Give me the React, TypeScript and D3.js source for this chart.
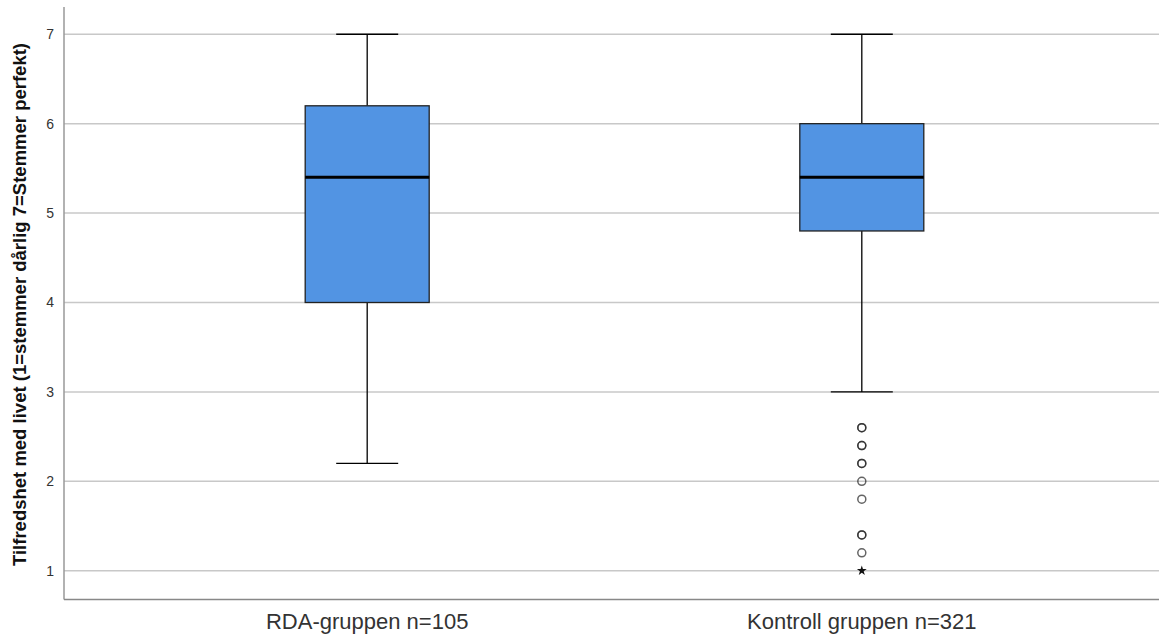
import React from 'react';
import * as d3 from 'd3';

const groups = ['RDA-gruppen n=105', 'Kontroll gruppen n=321'];
const mins = [2.2, 3.0];
const q1s = [4.0, 4.8];
const medians = [5.4, 5.4];
const q3s = [6.2, 6.0];
const maxs = [7.0, 7.0];
// outliers of the control group (duplicates = overlapping cases)
const outliers = [2.6, 2.6, 2.4, 2.4, 2.2, 2.2, 2.0, 1.8, 1.4, 1.4, 1.2];
const extremes = [1.0];
const yTicks = [1, 2, 3, 4, 5, 6, 7];

const W = 1159, H = 637;
const left = 64, plotRight = 1165, top = 7, bottom = 599.5;
const font = 'Liberation Sans, Arial, sans-serif';

export default function App() {
  const x = d3.scalePoint<string>().domain(groups).range([left, plotRight]).padding(0.613);
  const y = d3.scaleLinear().domain([0.678, 7.305]).range([bottom, top]);
  const boxW = 124;
  const capW = 62;
  const star = d3.symbol(d3.symbolStar, 30)();

  return (
    <svg width={W} height={H} style={{ position: 'absolute', left: 0, top: 0, background: '#fff' }}>
      {yTicks.map(t => (
        <g key={t}>
          <line x1={left} x2={W} y1={y(t)} y2={y(t)} stroke="#c8c8c8" strokeWidth={1.5} />
          <text x={54} y={y(t)} dy="0.35em" textAnchor="end" fontFamily={font} fontSize={14} fill="#333">{t}</text>
        </g>
      ))}
      <line x1={left} x2={left} y1={top} y2={bottom} stroke="#999" strokeWidth={1.5} />
      <line x1={left} x2={W} y1={bottom} y2={bottom} stroke="#888" strokeWidth={1.5} />
      <text transform={`translate(26,${(y(7) + y(1)) / 2 + 2}) rotate(-90)`} textAnchor="middle" fontFamily={font}
        fontSize={18.5} fontWeight="bold" fill="#111">Tilfredshet med livet (1=stemmer dårlig 7=Stemmer perfekt)</text>
      {groups.map((g, i) => {
        const cx = x(g)!;
        return (
          <g key={g}>
            <line x1={cx} x2={cx} y1={y(maxs[i])} y2={y(q3s[i])} stroke="#000" strokeWidth={1.3} />
            <line x1={cx} x2={cx} y1={y(q1s[i])} y2={y(mins[i])} stroke="#000" strokeWidth={1.3} />
            <line x1={cx - capW / 2} x2={cx + capW / 2} y1={y(maxs[i])} y2={y(maxs[i])} stroke="#000" strokeWidth={1.3} />
            <line x1={cx - capW / 2} x2={cx + capW / 2} y1={y(mins[i])} y2={y(mins[i])} stroke="#000" strokeWidth={1.3} />
            <rect x={cx - boxW / 2} width={boxW} y={y(q3s[i])} height={y(q1s[i]) - y(q3s[i])} fill="#5294e3" stroke="#222" strokeWidth={1.3} />
            <line x1={cx - boxW / 2} x2={cx + boxW / 2} y1={y(medians[i])} y2={y(medians[i])} stroke="#000" strokeWidth={3} />
            <text x={cx} y={629} textAnchor="middle" fontFamily={font} fontSize={22} fill="#333">{g}</text>
          </g>
        );
      })}
      {outliers.map((v, i) => (
        <circle key={i} cx={x(groups[1])!} cy={y(v)} r={4} fill="none" stroke="#222" strokeOpacity={0.7} strokeWidth={1.5} />
      ))}
      {extremes.map((v, i) => (
        <path key={i} d={star!} transform={`translate(${x(groups[1])},${y(v)})`} fill="#111" />
      ))}
    </svg>
  );
}
